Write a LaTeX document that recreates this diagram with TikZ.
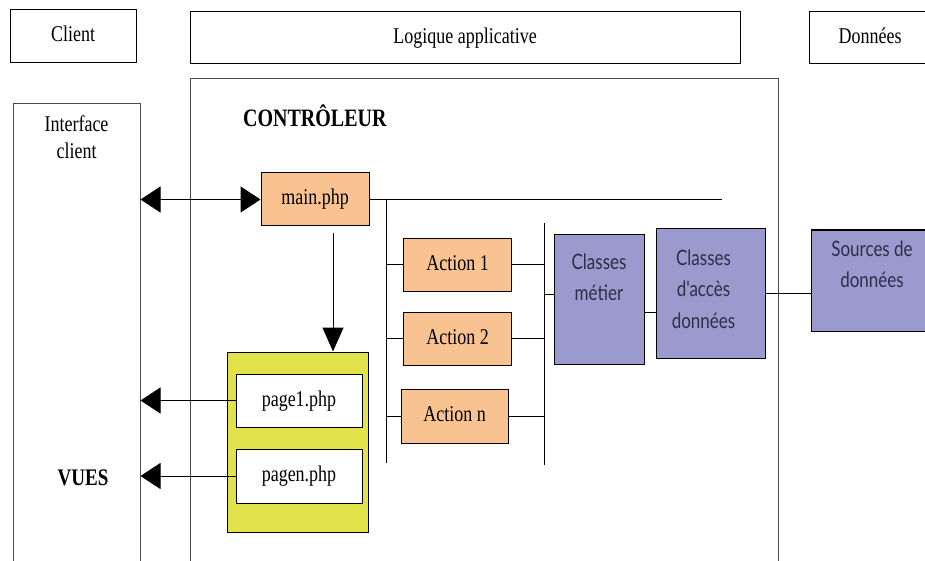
\documentclass[tikz,border=0pt]{standalone}
\usepackage{fontspec}
\setmainfont{Liberation Serif}
\newfontfamily\classfont{Lato}
\usepackage{graphicx}
\usetikzlibrary{arrows.meta}

\definecolor{actionorange}{HTML}{F9C291}
\definecolor{classpurple}{HTML}{9A9ACE}
\definecolor{vueyellow}{HTML}{E2E24A}
\definecolor{classtext}{HTML}{2E2E4A}

% taller text, as in the reference
\newcommand{\tall}[1]{\scalebox{1}[1.25]{\begin{tabular}{@{}c@{}}#1\end{tabular}}}

\begin{document}
\begin{tikzpicture}[x=1pt, y=-1pt,
    box/.style={draw, line width=1pt, inner sep=0pt, font=\fontsize{18}{22}\selectfont},
    frame/.style={draw=black!70, line width=1pt, inner sep=0pt, anchor=north, minimum height=520pt},
    header/.style={box, minimum height=53pt},
    action/.style={box, fill=actionorange, minimum width=108pt, minimum height=53pt},
    page/.style={box, fill=white, minimum width=126pt, minimum height=53pt},
    classbox/.style={box, fill=classpurple},
    classlabel/.style={anchor=north, inner sep=0pt, text=classtext,
                       font=\classfont\fontsize{17}{25}\selectfont},
    title/.style={inner sep=0pt, font=\bfseries\fontsize{19}{22}\selectfont},
    link/.style={line width=1pt},
    bigtip/.tip={Triangle[length=20pt, width=26pt]},
    flow/.style={link, -bigtip},
  ]

  \useasboundingbox (0,0) rectangle (925,561);
  \clip (0,0) rectangle (925,561);

  % headers          x,y
  \node [header, minimum width=126pt] (client) at (73,36.5) {\tall{Client}};
  \node [header, minimum width=550pt, minimum height=52pt] (logique) at (465,38)
        {\tall{Logique applicative}};
  \node [header, minimum width=122pt, minimum height=52pt] (donnees) at (870,38)
        {\tall{Données}};

  % open frames
  \node [frame, minimum width=127pt] (iface) at (76.5,103) {};
  \node [frame, minimum width=588pt] (logic) at (484,78) {};

  \node [anchor=north, inner sep=0pt, font=\fontsize{18}{22}\selectfont]
        at ([yshift=-9pt]iface.north) {\tall{Interface\\client}};
  \node [title, anchor=west, font=\bfseries\fontsize{20}{22}\selectfont]
        at (243,120) {\tall{CONTRÔLEUR}};
  \node [title] at (83,480) {\tall{VUES}};

  % controller and actions
  \node [action] (main) at (315,199.5) {\tall{main.php}};
  \node [action] (act1) at (457.5,264.5) {\tall{Action 1}};
  \node [action] (act2) at (457.5,338.5) {\tall{Action 2}};
  \node [action, minimum width=107pt, minimum height=54pt] (actn) at (454.5,416)
        {\tall{Action n}};

  % views
  \node [box, fill=vueyellow, minimum width=141pt, minimum height=180pt] (vues) at (297.5,442) {};
  \node [page] (page1) at (299,400.5) {\tall{page1.php}};
  \node [page, minimum height=54pt] (pagen) at (299,476) {\tall{pagen.php}};

  % business and data classes
  \node [classbox, minimum width=90pt, minimum height=130pt] (metier) at (599,299) {};
  \node [classbox, minimum width=109pt, minimum height=129pt] (acces) at (710.5,293.5) {};
  \node [classbox, minimum width=122pt, minimum height=101pt] (sources) at (872,280.5) {};

  \node [classlabel] at ([yshift=-14pt]metier.north) {\tall{Classes\\métier}};
  \node [classlabel] at ([xshift=-7pt, yshift=-15pt]acces.north)
        {\tall{Classes\\d'accès\\données}};
  \node [classlabel] at ([yshift=-5pt]sources.north) {\tall{Sources de\\données}};

  % buses
  \coordinate (bustop)  at (386,199.5);
  \coordinate (busbot)  at (386,463);
  \coordinate (mainend) at (722,199.5);
  \coordinate (bus2top) at (544,223);
  \coordinate (bus2bot) at (544,465);
  \coordinate (drop)    at ([xshift=18pt, yshift=-6pt]main.south);

  \draw [link] (main.east) -- (mainend);
  \draw [link] (bustop) -- (busbot);
  \draw [link] (bus2top) -- (bus2bot);

  \foreach \act in {act1, act2, actn} {
    \draw [link] (\act.west -| bustop) -- (\act.west);
    \draw [link] (\act.east) -- (\act.east -| bus2top);
  }

  \draw [link] ([yshift=5pt]metier.west -| bus2top) -- ([yshift=5pt]metier.west);
  \draw [link] ([yshift=-13pt]metier.east) -- ([yshift=-13pt]metier.east -| acces.west);
  \draw [link] (acces.east) -- (acces.east -| sources.west);

  % requests and responses
  \draw [link, bigtip-bigtip] (main.west -| iface.east) -- (main.west);
  \draw [link, -{Triangle[length=24pt, width=21pt]}] (drop) -- (drop |- vues.north);
  \draw [flow] (page1.west) -- (page1.west -| iface.east);
  \draw [flow] (pagen.west) -- (pagen.west -| iface.east);

\end{tikzpicture}
\end{document}
